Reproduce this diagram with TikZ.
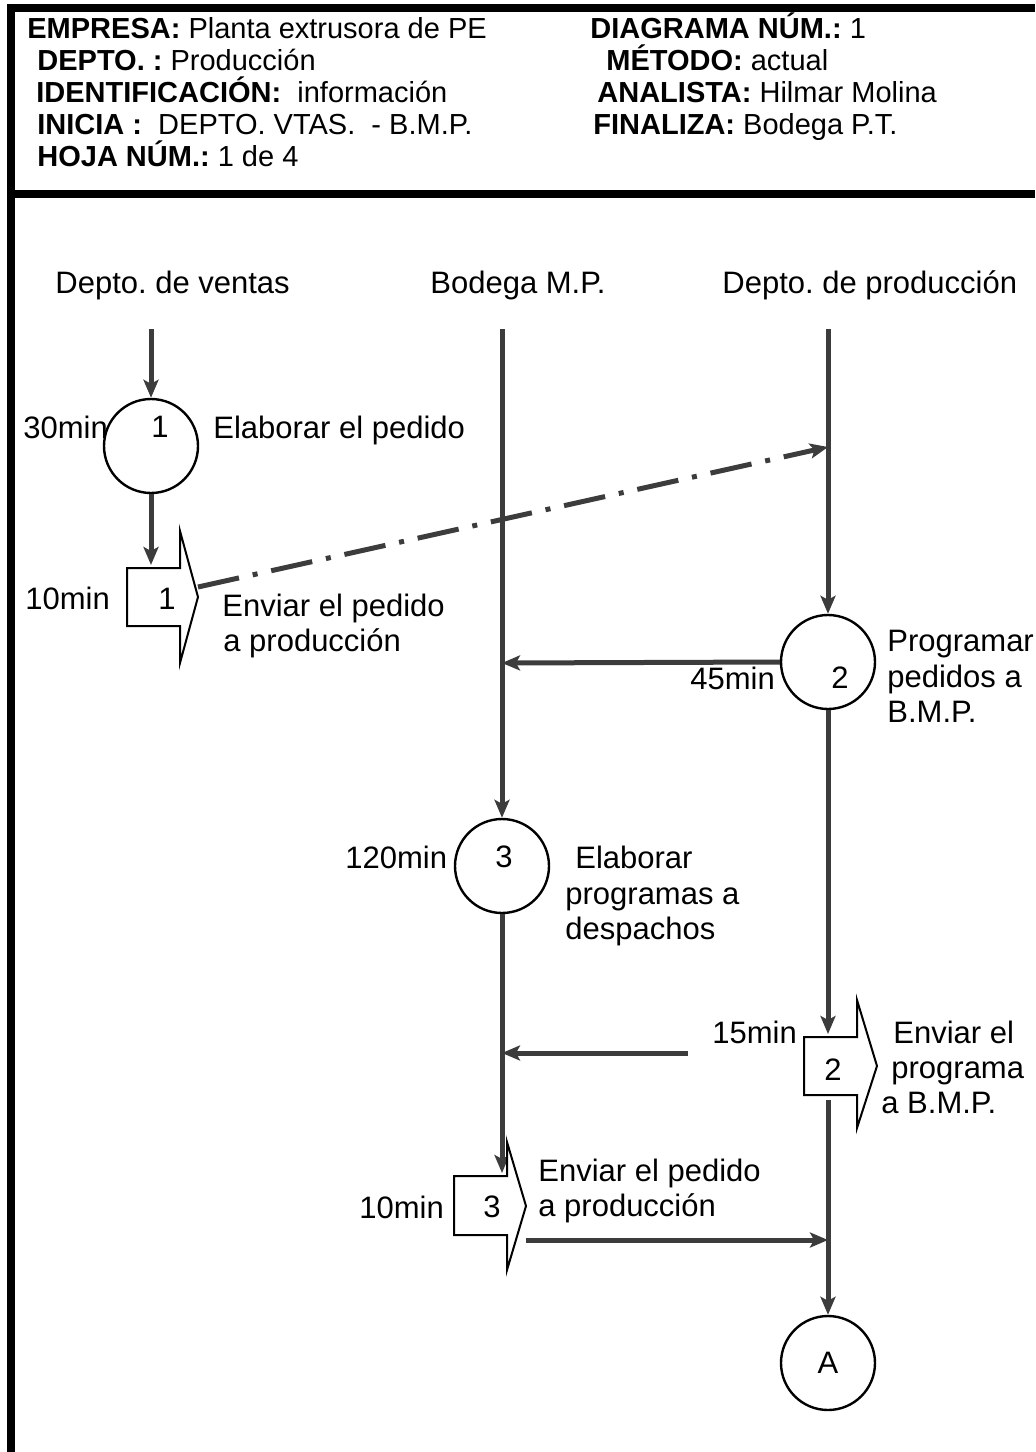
\documentclass[tikz,border=0pt]{standalone}
\usepackage{fontspec}
\setmainfont{Liberation Sans}
\usetikzlibrary{arrows.meta}
\definecolor{ln}{HTML}{3C3C3C}
\frenchspacing
\begin{document}
\begin{tikzpicture}[x=0.5pt,y=-0.5pt,
  flow/.style={draw=ln, line width=2.5pt, -{Stealth[length=9pt,width=7.5pt,inset=2pt]}},
  dashdot/.style={dash pattern=on 21pt off 7pt on 2.5pt off 7pt},
  op/.style={circle, draw=black, line width=1.2pt, minimum size=47pt, inner sep=0pt, fill=white,
    font=\fontsize{15.5}{18}\selectfont},
  shiftbox/.style={draw=black, line width=1pt, fill=white, line join=miter},
  body/.style={font=\fontsize{15.5}{18}\selectfont, inner sep=0pt, anchor=base west},
  num/.style={font=\fontsize{15.5}{18}\selectfont, inner sep=0pt, anchor=center},
  hdr/.style={font=\fontsize{14.5}{17}\selectfont, inner sep=0pt, anchor=base west},
  frame/.style={draw=black, line width=3.8pt, line join=miter}
]
\useasboundingbox (0,0) rectangle (1035,1452);
% frame
\draw[frame] (1035,8) -- (11,8) -- (11,1452);
\draw[frame] (11,194) -- (1035,194);
% header texts
\node[hdr] (h1) at (27,38) {\textbf{EMPRESA:} Planta extrusora de PE};
\node[hdr] (h2) at (37,70) {\textbf{DEPTO. :} Producción};
\node[hdr] (h3) at (36,102) {\textbf{IDENTIFICACIÓN:}\ \ información};
\node[hdr] (h4) at (37,134) {\textbf{INICIA :}\ \ DEPTO. VTAS.\ \ - B.M.P.};
\node[hdr] (h5) at (37,166) {\textbf{HOJA NÚM.:} 1 de 4};
\node[hdr] (h6) at (590,38) {\textbf{DIAGRAMA NÚM.:} 1};
\node[hdr] (h7) at (606,70) {\textbf{MÉTODO:} actual};
\node[hdr] (h8) at (597,102) {\textbf{ANALISTA:} Hilmar Molina};
\node[hdr] (h9) at (593,134) {\textbf{FINALIZA:} Bodega P.T.};
% column headers
\node[body] (hv) at (55,293) {Depto. de ventas};
\node[body] (hb) at (430,293) {Bodega M.P.};
\node[body] (hp) at (722,293) {Depto. de producción};
\coordinate (v0) at (151,329);
\coordinate (b0) at (502,329);
\coordinate (p0) at (828,329);
% coordinates for connectors
\coordinate (s1top) at (151,568);
\coordinate (s1out) at (198,587);
\coordinate (pdash) at (828,447);
\coordinate (bleft) at (502,663);
\coordinate (s2top) at (828,1037);
\coordinate (s2bot) at (828,1100);
\coordinate (s3top) at (502,1176);
\coordinate (a3from) at (688,1053);
\coordinate (a3to) at (502,1053);
\coordinate (s3out) at (526,1240);
\coordinate (pin) at (828,1240);
% circles
\node[op] (c1) at (151,446) {};
\node[op] (c2) at (828,662) {};
\node[op] (c3) at (502,866) {};
\node[op] (cA) at (828,1363) {A};
% connectors
\draw[flow] (v0) -- (c1);
\draw[flow, shorten >=1.5pt] (c1) -- (s1top);
\draw[flow, dashdot] (s1out) -- (pdash);
\draw[flow] (b0) -- (c3);
\draw[flow, shorten >=1.5pt] (c3) -- (s3top);
\draw[flow] (a3from) -- (a3to);
\draw[flow] (p0) -- (c2);
\draw[flow] (c2.west) -- (bleft);
\draw[flow, shorten >=1.5pt] (c2) -- (s2top);
\draw[flow] (s2bot) -- (cA);
\draw[flow] (s3out) -- (pin);
% shift (transport) shapes
\draw[shiftbox] (127,568) -- (180,568) -- (180,531) -- (198,597) -- (180,663) -- (180,626) -- (127,626) -- cycle;
\draw[shiftbox] (804,1037) -- (857,1037) -- (857,1000) -- (877,1066) -- (857,1128) -- (857,1095) -- (804,1095) -- cycle;
\draw[shiftbox] (454,1176) -- (507,1176) -- (507,1142) -- (526,1206) -- (507,1270) -- (507,1235) -- (454,1235) -- cycle;
% numbers
\node[num] (n1) at (160,427) {1};
\node[num] (n2) at (840,678) {2};
\node[num] (n3) at (504,857) {3};
\node[num] (t1) at (167,599) {1};
\node[num] (t2) at (833,1070) {2};
\node[num] (t3) at (492,1207) {3};
% times
\node[body] (m1) at (23,438) {30min};
\node[body] (m2) at (25,609) {10min};
\node[body] (m3) at (690,689) {45min};
\node[body] (m4) at (345,868) {120min};
\node[body] (m5) at (712,1043) {15min};
\node[body] (m6) at (359,1218) {10min};
% descriptions
\node[body] (d1) at (213,438) {Elaborar el pedido};
\node[body] (d2a) at (222,616) {Enviar el pedido};
\node[body] (d2b) at (223,651) {a producción};
\node[body] (d3a) at (887,651) {Programar};
\node[body] (d3b) at (887,687) {pedidos a};
\node[body] (d3c) at (887,722) {B.M.P.};
\node[body] (d4a) at (575,868) {Elaborar};
\node[body] (d4b) at (565,904) {programas a};
\node[body] (d4c) at (565,939) {despachos};
\node[body] (d5a) at (893,1043) {Enviar el};
\node[body] (d5b) at (891,1078) {programa};
\node[body] (d5c) at (881,1113) {a B.M.P.};
\node[body] (d6a) at (538,1181) {Enviar el pedido};
\node[body] (d6b) at (538,1216) {a producción};
\end{tikzpicture}
\end{document}
